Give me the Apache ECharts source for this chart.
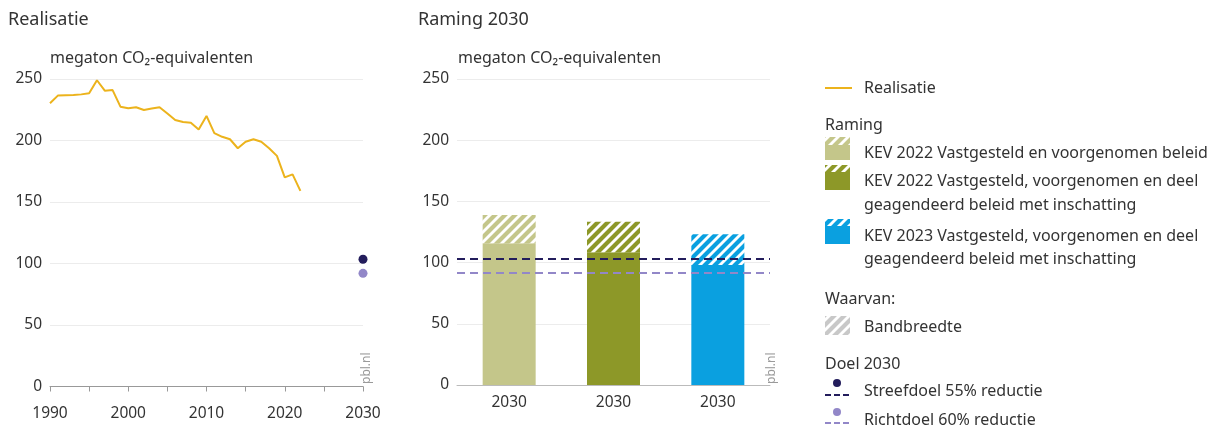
<!DOCTYPE html>
<html><head><meta charset="utf-8">
<script src="https://cdn.jsdelivr.net/npm/echarts@6/dist/echarts.min.js"></script>
<style>html,body{margin:0;padding:0;background:#fff}#c{width:1221px;height:427px}</style>
</head><body><div id="c"></div>
<script>
// ---- data ----
const years = [1990,1991,1992,1993,1994,1995,1996,1997,1998,1999,2000,2001,2002,2003,2004,2005,2006,2007,2008,2009,2010,2011,2012,2013,2014,2015,2016,2017,2018,2019,2020,2021,2022];
const realisatie = [230.3,236.5,236.8,237,237.5,238.4,249,240.5,241,227.5,226.2,227,224.8,226,227,222,216.7,215,214.5,209,220,206,203,201,193.7,199,201,199,193.7,187.5,170,172.5,159];
const doelJaar = 2030;
const streefdoel = 103.5;  // 55% reductie
const richtdoel = 92;      // 60% reductie
const scenarios = ['KEV 2022 VV', 'KEV 2022 VVD', 'KEV 2023 VVD'];
const scenarioLabels = ['2030','2030','2030'];
const ramingLaag = [115.8, 108.4, 98];
const ramingHoog = [138.9, 133.4, 123.1];

// ---- styles ----
const barColors = ['#c4c68a', '#8d9828', '#0aa0e0'];
const lineColor = '#ecb31c';
const streefColor = '#231d5c';
const richtColor = '#9287c8';
const textColor = '#333';
const FONT = '"Noto Sans", "Open Sans", sans-serif';

function hatch(color) {
  const s = 10;
  const c = document.createElement('canvas');
  c.width = s; c.height = s;
  const g = c.getContext('2d');
  g.fillStyle = '#fff'; g.fillRect(0,0,s,s);
  g.strokeStyle = color; g.lineWidth = 4.2;
  g.beginPath();
  g.moveTo(-s/2, s/2); g.lineTo(s/2, -s/2);
  g.moveTo(0, s); g.lineTo(s, 0);
  g.moveTo(s/2, s*1.5); g.lineTo(s*1.5, s/2);
  g.stroke();
  return c;
}
const pat = c => ({ image: hatch(c), repeat: 'repeat' });

const chart = echarts.init(document.getElementById('c'), null, {renderer: 'canvas'});

const yAxisCommon = {
  type: 'value', min: 0, max: 250, interval: 50,
  axisLine: {show: false}, axisTick: {show: false},
  splitLine: {lineStyle: {color: '#ececec', width: 1}},
  axisLabel: {color: textColor, fontSize: 15.5, fontFamily: FONT, margin: 8}
};

const legendX = 825, textX = 864;
const lf = '16px ' + FONT;
function txt(x, y, s, extra) {
  return Object.assign({type: 'text', x: x, y: y, silent: true,
    style: {text: s, font: lf, fill: textColor, verticalAlign: 'middle'}}, extra || {});
}
function swatch(y, h, color, hatchH) {
  return [
    {type: 'rect', shape: {x: legendX, y: y, width: 25, height: h}, style: {fill: color}},
    {type: 'rect', shape: {x: legendX, y: y, width: 25, height: hatchH}, style: {fill: pat(color)}}
  ];
}

const graphics = [
  {type: 'text', x: 8, y: 20, style: {text: 'Realisatie', font: '18px ' + FONT, fill: textColor, verticalAlign: 'middle'}},
  {type: 'text', x: 418, y: 20, style: {text: 'Raming 2030', font: '18px ' + FONT, fill: textColor, verticalAlign: 'middle'}},
  {type: 'text', x: 50, y: 58, style: {text: 'megaton CO₂-equivalenten', font: '16px ' + FONT, fill: textColor, verticalAlign: 'middle'}},
  {type: 'text', x: 458, y: 58, style: {text: 'megaton CO₂-equivalenten', font: '16px ' + FONT, fill: textColor, verticalAlign: 'middle'}},
  {type: 'text', x: 367, y: 384, rotation: Math.PI/2, style: {text: 'pbl.nl', font: '12px ' + FONT, fill: '#9a9a9a', verticalAlign: 'middle'}},
  {type: 'text', x: 772, y: 384, rotation: Math.PI/2, style: {text: 'pbl.nl', font: '12px ' + FONT, fill: '#9a9a9a', verticalAlign: 'middle'}},
  // legend
  {type: 'line', shape: {x1: legendX, y1: 88, x2: legendX + 27, y2: 88}, style: {stroke: lineColor, lineWidth: 2}},
  txt(textX, 88, 'Realisatie'),
  txt(legendX, 125, 'Raming'),
  ...swatch(137, 23, barColors[0], 8),
  txt(textX, 153, 'KEV 2022 Vastgesteld en voorgenomen beleid'),
  ...swatch(165, 25, barColors[1], 7),
  txt(textX, 181, 'KEV 2022 Vastgesteld, voorgenomen en deel'),
  txt(textX, 205, 'geagendeerd beleid met inschatting'),
  ...swatch(219, 25, barColors[2], 7),
  txt(textX, 236, 'KEV 2023 Vastgesteld, voorgenomen en deel'),
  txt(textX, 259, 'geagendeerd beleid met inschatting'),
  txt(legendX, 299, 'Waarvan:'),
  {type: 'rect', shape: {x: legendX, y: 316, width: 25, height: 19}, style: {fill: pat('#c8c8c8')}},
  txt(textX, 327, 'Bandbreedte'),
  txt(legendX, 364, 'Doel 2030'),
  {type: 'circle', shape: {cx: 837, cy: 383, r: 4}, style: {fill: streefColor}},
  {type: 'line', shape: {x1: legendX, y1: 395, x2: legendX + 25, y2: 395}, style: {stroke: streefColor, lineWidth: 2, lineDash: [6, 3]}},
  txt(textX, 391, 'Streefdoel 55% reductie'),
  {type: 'circle', shape: {cx: 837, cy: 412, r: 4}, style: {fill: richtColor}},
  {type: 'line', shape: {x1: legendX, y1: 423, x2: legendX + 25, y2: 423}, style: {stroke: richtColor, lineWidth: 2, lineDash: [6, 3]}},
  txt(textX, 420, 'Richtdoel 60% reductie')
];

const option = {
  backgroundColor: '#fff',
  animation: false,
  textStyle: {fontFamily: FONT},
  grid: [
    {left: 50, right: 1221 - 363, top: 79, bottom: 427 - 386.5},
    {left: 457, right: 1221 - 770, top: 79, bottom: 427 - 385}
  ],
  xAxis: [
    {gridIndex: 0, type: 'value', min: 1990, max: 2030, interval: 5,
     axisLine: {lineStyle: {color: '#999'}},
     axisTick: {show: true, length: 5, lineStyle: {color: '#999'}},
     splitLine: {show: false},
     axisLabel: {color: textColor, fontSize: 15.5, fontFamily: FONT, margin: 19,
       formatter: v => (v % 10 === 0 ? String(v) : '')}},
    {gridIndex: 1, type: 'category', data: scenarios,
     axisLine: {lineStyle: {color: '#bbb'}}, axisTick: {show: false},
     axisLabel: {color: textColor, fontSize: 15.5, fontFamily: FONT, margin: 10,
       formatter: (v, i) => scenarioLabels[i]}}
  ],
  yAxis: [
    Object.assign({gridIndex: 0}, yAxisCommon),
    Object.assign({gridIndex: 1}, yAxisCommon)
  ],
  series: [
    {type: 'line', xAxisIndex: 0, yAxisIndex: 0, data: years.map((y, i) => [y, realisatie[i]]),
     symbol: 'none', lineStyle: {color: lineColor, width: 2}, silent: true},
    {type: 'scatter', xAxisIndex: 0, yAxisIndex: 0, symbolSize: 9,
     data: [
       {value: [doelJaar, streefdoel], itemStyle: {color: streefColor, opacity: 1}},
       {value: [doelJaar, richtdoel], itemStyle: {color: richtColor, opacity: 1}}
     ], silent: true},
    {type: 'bar', xAxisIndex: 1, yAxisIndex: 1, stack: 'r', barWidth: 53,
     data: ramingLaag.map((v, i) => ({value: v, itemStyle: {color: barColors[i]}})), silent: true},
    {type: 'bar', xAxisIndex: 1, yAxisIndex: 1, stack: 'r', barWidth: 53,
     data: ramingHoog.map((v, i) => ({value: +(v - ramingLaag[i]).toFixed(2), itemStyle: {color: pat(barColors[i])}})),
     silent: true,
     markLine: {silent: true, symbol: 'none', label: {show: false},
       data: [
         {yAxis: streefdoel, lineStyle: {color: streefColor, width: 2, type: [8, 5]}},
         {yAxis: richtdoel, lineStyle: {color: richtColor, width: 2, type: [8, 5]}}
       ]}}
  ],
  graphic: graphics
};
chart.setOption(option);
</script></body></html>
